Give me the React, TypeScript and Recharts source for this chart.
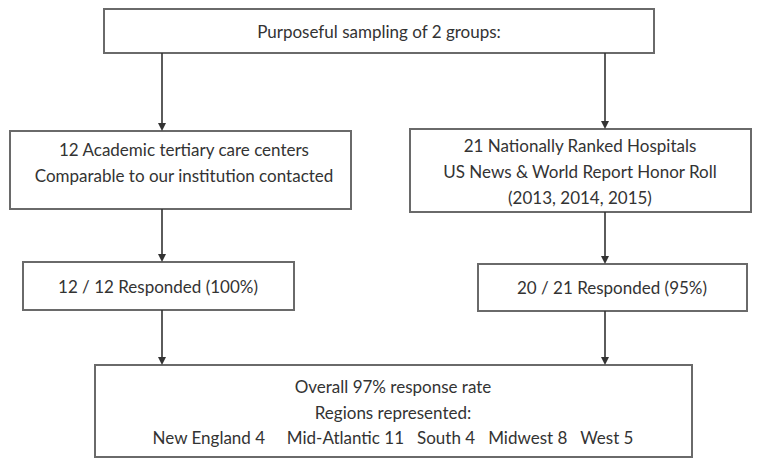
import React from 'react';
import { ComposedChart, XAxis, YAxis, ReferenceArea, ReferenceLine, Scatter } from 'recharts';

// ---- content ----
const samplingTitle = 'Purposeful sampling of 2 groups:';
const groupNames = ['Academic tertiary care centers', 'Nationally Ranked Hospitals'];
const groupContacted = [12, 21];
const groupResponded = [12, 20];
const groupRate = [100, 95];
const overallRate = 97;
const regions = ['New England', 'Mid-Atlantic', 'South', 'Midwest', 'West'];
const regionCounts = [4, 11, 4, 8, 5];
const regionGaps = ['     ', '   ', '   ', '   '];

// ---- layout (page pixel space) ----
const W = 762;
const H = 460;
const boxes = [
  { x1: 104, x2: 654, y1: 9, y2: 53 },
  { x1: 10, x2: 351, y1: 131, y2: 209 },
  { x1: 410, x2: 751, y1: 129, y2: 212 },
  { x1: 23, x2: 294, y1: 262, y2: 310 },
  { x1: 478, x2: 747, y1: 264, y2: 311 },
  { x1: 95, x2: 692, y1: 365, y2: 457 },
];
const arrows = [
  { x: 162, from: 53, to: 131 },
  { x: 605, from: 53, to: 129 },
  { x: 162, from: 209, to: 262 },
  { x: 605, from: 212, to: 264 },
  { x: 162, from: 310, to: 365 },
  { x: 605, from: 311, to: 365 },
];

const regionLine = regions
  .map((r, i) => `${r} ${regionCounts[i]}`)
  .reduce((acc, s, i) => (i === 0 ? s : acc + regionGaps[i - 1] + s), '');

const labels = [
  { x: 379, y: 31, lh: 26, lines: [samplingTitle] },
  {
    x: 184,
    y: 162,
    lh: 26,
    lines: [`${groupContacted[0]} ${groupNames[0]}`, 'Comparable to our institution contacted'],
  },
  {
    x: 580,
    y: 171,
    lh: 26,
    lines: [`${groupContacted[1]} ${groupNames[1]}`, 'US News & World Report Honor Roll', '(2013, 2014, 2015)'],
  },
  { x: 158, y: 286, lh: 26, lines: [`${groupResponded[0]} / ${groupContacted[0]} Responded (${groupRate[0]}%)`] },
  { x: 612, y: 287, lh: 26, lines: [`${groupResponded[1]} / ${groupContacted[1]} Responded (${groupRate[1]}%)`] },
  {
    x: 393,
    y: 412,
    lh: 25.5,
    lines: [`Overall ${overallRate}% response rate`, 'Regions represented:', regionLine],
  },
];

const arrowTips = arrows.map((a) => ({ x: a.x, y: a.to }));

const TEXT = '#333333';
const FONT = 'Lato, "Open Sans", sans-serif';

const LabelShape = (props: any) => {
  const { cx, cy, payload } = props;
  const n = payload.lines.length;
  return (
    <text
      textAnchor="middle"
      fill={TEXT}
      fontFamily={FONT}
      fontSize={17}
      style={{ whiteSpace: 'pre' }}
    >
      {payload.lines.map((l: string, i: number) => (
        <tspan key={i} x={cx} y={cy + (i - (n - 1) / 2) * payload.lh} dominantBaseline="central">
          {l}
        </tspan>
      ))}
    </text>
  );
};

const ArrowHead = (props: any) => {
  const { cx, cy } = props;
  return <path d={`M${cx - 4},${cy - 8} L${cx + 4},${cy - 8} L${cx},${cy} Z`} fill="#333" />;
};

export default function App() {
  return (
    <div style={{ position: 'absolute', left: 0, top: 0, width: W, height: H, background: '#fff' }}>
      <ComposedChart width={W} height={H} margin={{ top: 0, right: 0, bottom: 0, left: 0 }}>
        <XAxis type="number" dataKey="x" domain={[0, W]} hide allowDataOverflow />
        <YAxis type="number" dataKey="y" domain={[0, H]} reversed hide allowDataOverflow width={0} />
        {arrows.map((a, i) => (
          <ReferenceLine
            key={`l${i}`}
            segment={[
              { x: a.x, y: a.from },
              { x: a.x, y: a.to - 6 },
            ]}
            stroke="#333"
            strokeWidth={1.6}
            ifOverflow="visible"
          />
        ))}
        {boxes.map((b, i) => (
          <ReferenceArea
            key={`b${i}`}
            x1={b.x1}
            x2={b.x2}
            y1={b.y1}
            y2={b.y2}
            fill="#ffffff"
            fillOpacity={1}
            stroke="#6a6a6a"
            strokeWidth={2}
            ifOverflow="visible"
          />
        ))}
        <Scatter data={arrowTips} dataKey="y" shape={ArrowHead} isAnimationActive={false} />
        <Scatter data={labels} dataKey="y" shape={LabelShape} isAnimationActive={false} />
      </ComposedChart>
    </div>
  );
}
